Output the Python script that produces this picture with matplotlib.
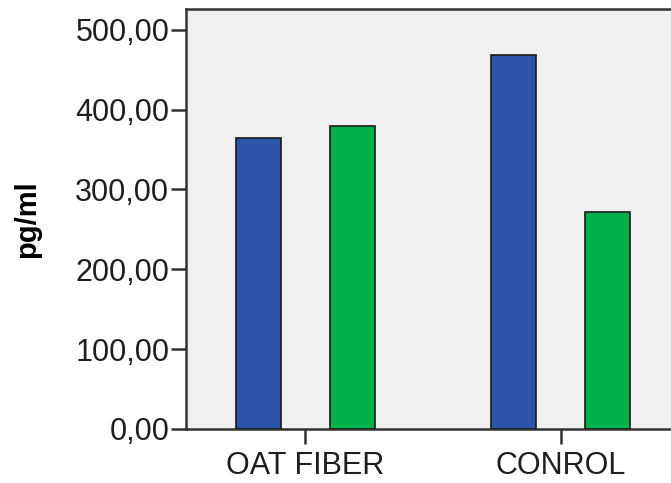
import matplotlib
matplotlib.use("Agg")
import matplotlib.pyplot as plt
import numpy as np
from matplotlib.ticker import FuncFormatter

groups = ["OAT FIBER", "CONROL"]
blue_vals = [364, 469]    # first bar in each group
green_vals = [380, 272]   # second bar in each group
yticks = [0, 100, 200, 300, 400, 500]

plt.rcParams['font.family'] = ['Liberation Sans', 'DejaVu Sans']

W, H = 671, 483
fig = plt.figure(figsize=(W / 100, H / 100), dpi=100)
left, bottom, top = 186, 429, 9
width_px = 494
ax = fig.add_axes([left / W, (H - bottom) / H, width_px / W, (bottom - top) / H])
ax.set_facecolor("#f0f0f0")

x = np.arange(len(groups))
off = 47 / 256
bw = 45 / 256
ax.bar(x - off, blue_vals, bw, color="#2a55a8", edgecolor="#1a1a1a", linewidth=1.2, zorder=3)
ax.bar(x + off, green_vals, bw, color="#00b14b", edgecolor="#1a1a1a", linewidth=1.2, zorder=3)

ax.set_xlim(-0.465, 1.465)
ax.set_ylim(0, 526)
ax.set_xticks(x)
ax.set_xticklabels(groups)
ax.set_yticks(yticks)
ax.yaxis.set_major_formatter(FuncFormatter(lambda v, p: f"{v:.2f}".replace(".", ",")))
ax.tick_params(axis="both", direction="out", length=11, width=1.8, color="#333333",
               labelsize=22, labelcolor="#1e1e1e")
ax.tick_params(axis="y", pad=1)
ax.tick_params(axis="x", pad=5)
for s in ax.spines.values():
    s.set_color("#333333")
    s.set_linewidth(1.8)

fig.text(27 / W, 1 - 219 / H, "pg/ml", rotation=90, fontsize=21, fontweight="bold",
         ha="center", va="center", color="#000000")

fig.savefig("out.png", dpi=100)
